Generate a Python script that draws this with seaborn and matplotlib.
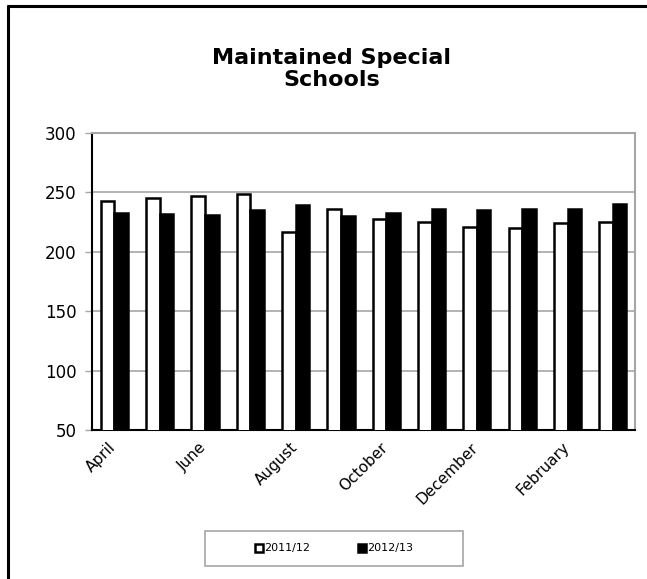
import matplotlib
matplotlib.use("Agg")
import matplotlib.pyplot as plt
import matplotlib.transforms as mtransforms
from matplotlib.lines import Line2D
from matplotlib.patches import Patch, Rectangle
import numpy as np
import pandas as pd
import seaborn as sns

months = ["April", "May", "June", "July", "August", "September", "October",
          "November", "December", "January", "February", "March"]
shown_labels = ["April", "", "June", "", "August", "", "October", "",
                "December", "", "February", ""]
series_names = ["2011/12", "2012/13"]
values_2011 = [243, 245, 247, 249, 217, 236, 228, 225, 221, 220, 224, 225]
values_2012 = [233, 232, 231, 235, 239, 230, 233, 236, 235, 236, 236, 240]
y_ticks = [50, 100, 150, 200, 250, 300]

df = pd.DataFrame({
    "month": months * 2,
    "year": [series_names[0]] * len(months) + [series_names[1]] * len(months),
    "count": values_2011 + values_2012,
})

sns.set_theme(style="white")
plt.rcParams["font.family"] = ["DejaVu Sans"]
plt.rcParams["text.color"] = "black"
plt.rcParams["xtick.color"] = "black"
plt.rcParams["ytick.color"] = "black"
plt.rcParams["xtick.labelcolor"] = "black"
plt.rcParams["ytick.labelcolor"] = "black"

W, H = 647, 579
fig = plt.figure(figsize=(W / 100, H / 100), dpi=100)
ax = fig.add_axes([91.7 / W, 1 - 430 / H, (635.5 - 91.7) / W, (430 - 133) / H])

sns.barplot(data=df, x="month", y="count", hue="year", order=months,
            hue_order=series_names, palette=["white", "black"],
            width=0.6, edgecolor="black", linewidth=1.8, ax=ax,
            legend=False, zorder=3)

ax.set_ylim(50, 300)
ax.set_xlim(-0.5, len(months) - 0.5)
ax.set_yticks(y_ticks)
ax.set_yticklabels([str(v) for v in y_ticks], fontsize=12)
ax.yaxis.grid(True, color="#a6a6a6", linewidth=1.2, zorder=0)
ax.set_axisbelow(True)

ax.set_xticks(range(len(months)))
ax.set_xticklabels(shown_labels, rotation=45, ha="right", rotation_mode="anchor",
                   fontsize=11)
ax.tick_params(axis="x", which="major", length=0, pad=7)
shift = mtransforms.ScaledTranslation(-6 / 100, 0, fig.dpi_scale_trans)
for lbl in ax.get_xticklabels():
    lbl.set_transform(lbl.get_transform() + shift)
ax.set_xticks(np.arange(-0.5, len(months) + 0.5, 1), minor=True)
ax.tick_params(axis="x", which="minor", length=5, color="#a6a6a6", width=1)
ax.tick_params(axis="y", which="major", length=5, color="#a6a6a6", width=1,
               left=True, pad=6)
ax.set_xlabel("")
ax.set_ylabel("")

for side in ["top", "right"]:
    ax.spines[side].set_color("#a6a6a6")
    ax.spines[side].set_linewidth(1.5)
for side in ["left", "bottom"]:
    ax.spines[side].set_color("black")
    ax.spines[side].set_linewidth(1.5)

fig.text(332 / W, 1 - 69 / H, "Maintained Special\nSchools", ha="center",
         va="center", fontsize=16, fontweight="bold", linespacing=1.15,
         color="black")

# legend box with the two series entries
fig.add_artist(Rectangle((205 / W, 1 - 566 / H), 258 / W, 35 / H,
                         transform=fig.transFigure, facecolor="white",
                         edgecolor="#a6a6a6", linewidth=1.2))
handles = [Patch(facecolor="white", edgecolor="black", linewidth=1.8),
           Patch(facecolor="black", edgecolor="black", linewidth=1.8)]
leg = fig.legend(handles, series_names, ncol=2, loc="center",
                 bbox_to_anchor=(334 / W, 1 - 548.5 / H), fontsize=8,
                 frameon=False, handlelength=0.7, handleheight=0.7,
                 handletextpad=0.1, columnspacing=4.3)
for t in leg.get_texts():
    t.set_color("black")

# page border along the left and top edges
fig.add_artist(Line2D([7.5 / W, 7.5 / W], [0, 1 - 6 / H], color="black",
                      linewidth=2.2, transform=fig.transFigure))
fig.add_artist(Line2D([7.5 / W, 1], [1 - 6 / H, 1 - 6 / H], color="black",
                      linewidth=2.2, transform=fig.transFigure))

fig.savefig("out.png", dpi=100)
